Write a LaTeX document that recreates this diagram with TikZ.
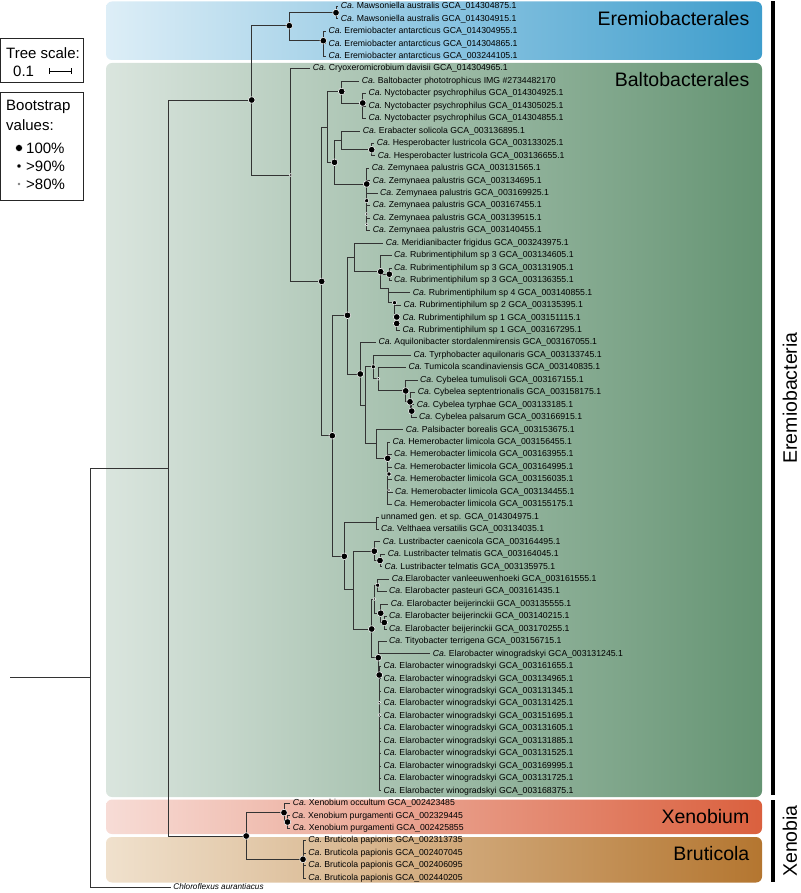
\documentclass[tikz,border=0pt]{standalone}
\usepackage{fontspec}
\setmainfont{Liberation Sans}
\usetikzlibrary{positioning}

\definecolor{ereL}{RGB}{221,238,247}
\definecolor{ereR}{RGB}{62,157,204}
\definecolor{balL}{RGB}{218,229,222}
\definecolor{balR}{RGB}{101,148,115}
\definecolor{xenL}{RGB}{247,220,214}
\definecolor{xenR}{RGB}{218,96,62}
\definecolor{bruL}{RGB}{240,225,205}
\definecolor{bruR}{RGB}{180,118,48}

\newcommand{\cand}{\textit{Ca.}}

\begin{document}
\begin{tikzpicture}[x=1pt, y=-1pt,
    br/.style={draw=black!80, line width=0.9pt},
    leaf/.style={anchor=west, inner xsep=2.5pt, inner ysep=0pt, font=\fontsize{8.7}{9}\selectfont},
    bsbig/.style={circle, fill=black, draw=white, line width=0.5pt, inner sep=0pt, minimum size=6.6pt},
    bsmid/.style={bsbig, minimum size=4.2pt},
    bssmall/.style={bsbig, minimum size=2.8pt},
    cladebox/.style={rounded corners=6pt},
    cladelabel/.style={anchor=east, inner sep=0pt, font=\fontsize{19.5}{20}\selectfont},
    grouplabel/.style={rotate=90, inner sep=0pt, font=\fontsize{19.5}{20}\selectfont},
    legbox/.style={draw=black!85, line width=0.9pt},
    legtext/.style={anchor=west, inner sep=0pt, font=\fontsize{15}{16}\selectfont},
  ]
  \useasboundingbox (0,0) rectangle (800,893);

  % clade backgrounds
  \shade[cladebox, left color=ereL, right color=ereR] (106,1.5) rectangle (762,60);
  \shade[cladebox, left color=balL, right color=balR] (106,63) rectangle (762,797);
  \shade[cladebox, left color=xenL, right color=xenR] (106,799.5) rectangle (762,834);
  \shade[cladebox, left color=bruL, right color=bruR] (106,837) rectangle (762,882.5);

  \node[cladelabel] (lbEre) at (749.5,18.5) {Eremiobacterales};
  \node[cladelabel] (lbBal) at (749.5,80) {Baltobacterales};
  \node[cladelabel] (lbXen) at (749.5,816.5) {Xenobium};
  \node[cladelabel] (lbBru) at (749.5,854) {Bruticola};

  % group bars
  \draw[line width=4pt] (773,1.5) -- (773,795);
  \draw[line width=4pt] (773,800) -- (773,882);
  \node[grouplabel] (gEre) at (790,398) {Eremiobacteria};
  \node[grouplabel] (gXen) at (790,841) {Xenobia};

  % legend
  \draw[legbox] (0.5,38.5) rectangle (83,82.5);
  \node[legtext] (tsc) at (6,53) {Tree scale:};
  \node[legtext] (tsv) at (13,71) {0.1};
  \draw[line width=0.6pt, |-|] (49,71) -- (72,71);
  \draw[legbox] (0.5,92) rectangle (83,200);
  \node[legtext] (bsa) at (6,107) {Bootstrap};
  \node[legtext] (bsb) at (6,125) {values:};
  \node[bsbig, minimum size=7pt] (k1) at (19,148) {};
  \node[legtext, right=7pt of k1.center] {100\%};
  \node[bsmid] (k2) at (19,166) {};
  \node[legtext, right=7pt of k2.center] {>90\%};
  \node[bssmall] (k3) at (19,184) {};
  \node[legtext, right=7pt of k3.center] {>80\%};

  % leaves
  \foreach \i/\tx/\lab in {
      1/338.2/Mawsoniella australis GCA\_014304875.1,
      2/338.2/Mawsoniella australis GCA\_014304915.1,
      3/325.8/Eremiobacter antarcticus GCA\_014304955.1,
      4/325.8/Eremiobacter antarcticus GCA\_014304865.1,
      5/325.8/Eremiobacter antarcticus GCA\_003244105.1,
      6/310.2/Cryoxeromicrobium davisii GCA\_014304965.1,
      7/359.2/Baltobacter phototrophicus IMG \#2734482170,
      8/365.8/Nyctobacter psychrophilus GCA\_014304925.1,
      9/365.8/Nyctobacter psychrophilus GCA\_014305025.1,
      10/365.8/Nyctobacter psychrophilus GCA\_014304855.1,
      11/360.2/Erabacter solicola GCA\_003136895.1,
      12/374.2/Hesperobacter lustricola GCA\_003133025.1,
      13/375.2/Hesperobacter lustricola GCA\_003136655.1,
      14/369.2/Zemynaea palustris GCA\_003131565.1,
      15/370.2/Zemynaea palustris GCA\_003134695.1,
      16/377.5/Zemynaea palustris GCA\_003169925.1,
      17/370.2/Zemynaea palustris GCA\_003167455.1,
      18/370.2/Zemynaea palustris GCA\_003139515.1,
      19/370.2/Zemynaea palustris GCA\_003140455.1,
      20/383.2/Meridianibacter frigidus GCA\_003243975.1,
      21/391.5/Rubrimentiphilum sp 3 GCA\_003134605.1,
      22/391.5/Rubrimentiphilum sp 3 GCA\_003131905.1,
      23/391.5/Rubrimentiphilum sp 3 GCA\_003136355.1,
      24/410.2/Rubrimentiphilum sp 4 GCA\_003140855.1,
      25/400.8/Rubrimentiphilum sp 2 GCA\_003135395.1,
      26/399.8/Rubrimentiphilum sp 1 GCA\_003151115.1,
      27/399.8/Rubrimentiphilum sp 1 GCA\_003167295.1,
      28/375.8/Aquilonibacter stordalenmirensis GCA\_003167055.1,
      29/410.8/Tyrphobacter aquilonaris GCA\_003133745.1,
      30/405.8/Tumicola scandinaviensis GCA\_003140835.1,
      31/417.5/Cybelea tumulisoli GCA\_003167155.1,
      32/415.2/Cybelea septentrionalis GCA\_003158175.1,
      33/414.2/Cybelea tyrphae GCA\_003133185.1,
      34/416.5/Cybelea palsarum GCA\_003166915.1,
      35/403.2/Palsibacter borealis GCA\_003153675.1,
      36/389.8/Hemerobacter limicola GCA\_003156455.1,
      37/391.5/Hemerobacter limicola GCA\_003163955.1,
      38/391.5/Hemerobacter limicola GCA\_003164995.1,
      39/391.5/Hemerobacter limicola GCA\_003156035.1,
      40/392.5/Hemerobacter limicola GCA\_003134455.1,
      41/391.5/Hemerobacter limicola GCA\_003155175.1,
      43/378.5/Velthaea versatilis GCA\_003134035.1,
      44/380.2/Lustribacter caenicola GCA\_003164495.1,
      45/385.2/Lustribacter telmatis GCA\_003164045.1,
      46/381.8/Lustribacter telmatis GCA\_003135975.1,
      48/386.5/Elarobacter pasteuri GCA\_003161435.1,
      49/388.2/Elarobacter beijerinckii GCA\_003135555.1,
      50/386.5/Elarobacter beijerinckii GCA\_003140215.1,
      51/386.5/Elarobacter beijerinckii GCA\_003170255.1,
      52/386.5/Tityobacter terrigena GCA\_003156715.1,
      53/430.2/Elarobacter winogradskyi GCA\_003131245.1,
      54/380.8/Elarobacter winogradskyi GCA\_003161655.1,
      55/380.8/Elarobacter winogradskyi GCA\_003134965.1,
      56/380.8/Elarobacter winogradskyi GCA\_003131345.1,
      57/380.8/Elarobacter winogradskyi GCA\_003131425.1,
      58/380.8/Elarobacter winogradskyi GCA\_003151695.1,
      59/380.8/Elarobacter winogradskyi GCA\_003131605.1,
      60/380.8/Elarobacter winogradskyi GCA\_003131885.1,
      61/380.8/Elarobacter winogradskyi GCA\_003131525.1,
      62/380.8/Elarobacter winogradskyi GCA\_003169995.1,
      63/380.8/Elarobacter winogradskyi GCA\_003131725.1,
      64/380.8/Elarobacter winogradskyi GCA\_003168375.1,
      65/290.2/Xenobium occultum GCA\_002423485,
      66/289.5/Xenobium purgamenti GCA\_002329445,
      67/290.2/Xenobium purgamenti GCA\_002425855,
      68/305.7/Bruticola papionis GCA\_002313735,
      69/305.7/Bruticola papionis GCA\_002407045,
      70/305.7/Bruticola papionis GCA\_002406095,
      71/305.7/Bruticola papionis GCA\_002440205}
    \node[leaf] (l\i) at (\tx,{6.5+(\i-1)*12.45}) {\cand\ \lab};
  \node[leaf] (l42) at (378.5,{6.5+41*12.45}) {unnamed gen. et sp. GCA\_014304975.1};
  \node[leaf] (l47) at (389.2,{6.5+46*12.45}) {\cand Elarobacter vanleeuwenhoeki GCA\_003161555.1};
  \node[leaf, font=\fontsize{8.2}{9}\selectfont\itshape] (l72) at (170.7,887) {Chloroflexus aurantiacus};

  % internal nodes
  \coordinate (stub) at (10,677.5);
  \coordinate (rt) at (90,677.5);
  \coordinate (ig) at (168,468);
  \coordinate (nA) at (251.7,100);
  \coordinate (nE) at (289.3,25.7);
  \coordinate (nM) at (336,12.7);
  \coordinate (nR) at (323.3,40.7);
  \coordinate (nB) at (290.7,175);
  \coordinate (nC) at (321.7,281.4);
  \coordinate (nH) at (327,127);
  \coordinate (nN1) at (341.7,91.5);
  \coordinate (nN2) at (362.7,103);
  \coordinate (nD) at (334.5,162.3);
  \coordinate (nJ) at (341.7,140);
  \coordinate (nHs) at (371.7,149.7);
  \coordinate (nZ) at (366.7,184);
  \coordinate (nG) at (332.3,435.7);
  \coordinate (nK) at (347.5,315.3);
  \coordinate (nP) at (354,257.4);
  \coordinate (nRb) at (380.7,271.7);
  \coordinate (nRc) at (389.3,274.2);
  \coordinate (nRx) at (388.3,288.3);
  \coordinate (nRd) at (394.5,302.7);
  \coordinate (nRe) at (396.7,317);
  \coordinate (nRf) at (396.7,323.5);
  \coordinate (nQ) at (360.3,374);
  \coordinate (nQ2) at (365.7,405);
  \coordinate (nQ3) at (373.3,366.8);
  \coordinate (nQ5) at (378.3,378.7);
  \coordinate (nCy) at (405.7,390.9);
  \coordinate (nCy2) at (410,401.8);
  \coordinate (nCy3) at (411.7,411.1);
  \coordinate (nQ4) at (376.7,443.3);
  \coordinate (nHm) at (387.7,458.3);
  \coordinate (nL) at (344.3,556.3);
  \coordinate (nL1) at (376.7,522.7);
  \coordinate (nL2) at (353.3,589);
  \coordinate (nLu) at (374.3,551.2);
  \coordinate (nLu2) at (380,560.5);
  \coordinate (nEl) at (371.7,629);
  \coordinate (nEa) at (374.3,599);
  \coordinate (nEb) at (377.7,585.2);
  \coordinate (nEc) at (380.7,613.2);
  \coordinate (nEd) at (384.3,622.5);
  \coordinate (nEf) at (378.3,657.7);
  \coordinate (nW) at (379.3,675);
  \coordinate (nXb) at (246.2,836);
  \coordinate (nXn) at (284,812.6);
  \coordinate (nXn2) at (287.5,822);
  \coordinate (nBr) at (303,859.3);
  % support marks lying on polytomies
  \coordinate (dZ2) at (366.7,200.7);
  \coordinate (dZ3) at (366.7,214);
  \coordinate (dZ4) at (366.7,224.3);
  \coordinate (dHm2) at (389,474);
  \coordinate (dHm3) at (389,490);
  \coordinate (dW2) at (379.3,702.7);
  \coordinate (dW3) at (379.3,715);

  % branches
  \draw[br] (stub) -- (rt);
  \foreach \p/\c in {rt/ig, rt/l72, ig/nA, ig/nXb,
      nA/nE, nA/nB, nE/nM, nE/nR, nM/l1, nM/l2, nR/l3, nR/l4, nR/l5,
      nB/l6, nB/nC, nC/nH, nC/nG, nH/nN1, nH/nD, nN1/l7, nN1/nN2,
      nN2/l8, nN2/l9, nN2/l10, nD/nJ, nD/nZ, nJ/l11, nJ/nHs, nHs/l12, nHs/l13,
      nZ/l14, nZ/l15, nZ/l16, nZ/l17, nZ/l18, nZ/l19,
      nG/nK, nG/nL, nK/nP, nK/nQ, nP/l20, nP/nRb, nRb/l21, nRb/nRc, nRb/nRx,
      nRc/l22, nRc/l23, nRx/l24, nRx/nRd, nRd/l25, nRd/nRe, nRe/l26, nRe/nRf, nRf/l27,
      nQ/l28, nQ/nQ2, nQ2/nQ3, nQ2/nQ4, nQ3/l29, nQ3/nQ5, nQ5/l30, nQ5/nCy,
      nCy/l31, nCy/nCy2, nCy2/l32, nCy2/nCy3, nCy3/l33, nCy3/l34, nQ4/l35, nQ4/nHm,
      nHm/l36, nHm/l37, nHm/l38, nHm/l39, nHm/l40, nHm/l41,
      nL/nL1, nL/nL2, nL1/l42, nL1/l43, nL2/nLu, nL2/nEl, nLu/l44, nLu/nLu2,
      nLu2/l45, nLu2/l46, nEl/nEa, nEl/nEf, nEa/nEb, nEa/nEc, nEb/l47, nEb/l48,
      nEc/l49, nEc/nEd, nEd/l50, nEd/l51, nEf/l52, nEf/l53, nEf/nW,
      nW/l54, nW/l55, nW/l56, nW/l57, nW/l58, nW/l59, nW/l60, nW/l61, nW/l62, nW/l63, nW/l64,
      nXb/nXn, nXb/nBr, nXn/l65, nXn/nXn2, nXn2/l66, nXn2/l67,
      nBr/l68, nBr/l69, nBr/l70, nBr/l71}
    \draw[br] (\p) |- (\c.west);

  % bootstrap marks
  \foreach \n in {nA, nE, nM, nR, nC, nN1, nN2, nD, nHs, nZ, nG, nK, nRb, nRc, nRe, nRf,
      nQ, nCy, nCy2, nCy3, nHm, nL, nLu, nLu2, nEl, nEc, nEd, nEf, nW, nXb, nXn, nXn2, nBr}
    \node[bsbig] at (\n) {};
  \foreach \n in {nRd, nQ3, nEb, dZ2, dHm2}
    \node[bsmid] at (\n) {};
  \foreach \n in {nB, nQ5, nEa, dZ3, dZ4, dHm3, dW2, dW3}
    \node[bssmall] at (\n) {};
\end{tikzpicture}
\end{document}
